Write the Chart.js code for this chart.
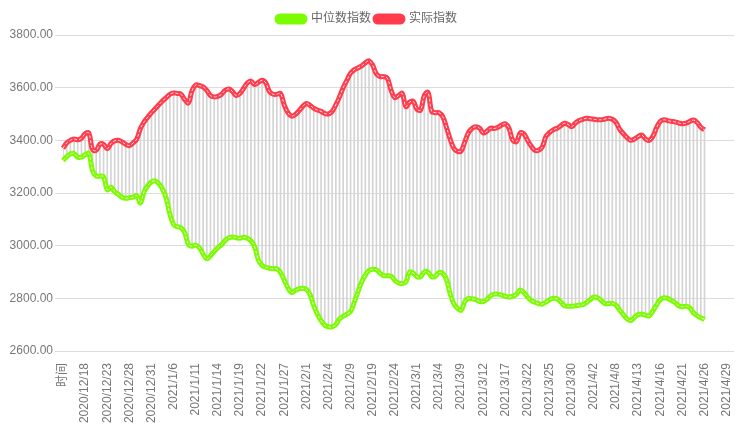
<!DOCTYPE html>
<html>
<head>
<meta charset="utf-8">
<script src="https://cdn.jsdelivr.net/npm/chart.js@4.4.1/dist/chart.umd.min.js"></script>
<style>
  html, body { margin: 0; padding: 0; background: #fff; }
  #wrap { width: 736px; height: 448px; }
</style>
</head>
<body>
<div id="wrap"><canvas id="myChart"></canvas></div>
<script>
// visible x labels (every 6th category)
const tickLabels = ['时间', '2020/12/18', '2020/12/23', '2020/12/28', '2020/12/31', '2021/1/6', '2021/1/11',
    '2021/1/14', '2021/1/19', '2021/1/22', '2021/1/27', '2021/2/1', '2021/2/4', '2021/2/9', '2021/2/19',
    '2021/2/24', '2021/3/1', '2021/3/4', '2021/3/9', '2021/3/12', '2021/3/17', '2021/3/22', '2021/3/25',
    '2021/3/30', '2021/4/2', '2021/4/8', '2021/4/13', '2021/4/16', '2021/4/21', '2021/4/26', '2021/4/29'];
const categoryCount = 183;

// 实际指数
const actual = [
    3370, 3390, 3400, 3405, 3402, 3408, 3425, 3428, 3365, 3362,
    3385, 3385, 3368, 3388, 3398, 3400, 3394, 3385, 3380, 3390,
    3405, 3445, 3470, 3488, 3505, 3520, 3535, 3550, 3562, 3575,
    3580, 3578, 3575, 3555, 3542, 3588, 3610, 3608, 3603, 3590,
    3570, 3565, 3567, 3575, 3590, 3595, 3585, 3570, 3578, 3598,
    3618, 3625, 3612, 3620, 3628, 3618, 3585, 3575, 3575, 3578,
    3535, 3505, 3492, 3498, 3512, 3528, 3540, 3533, 3522, 3515,
    3510, 3502, 3500, 3510, 3535, 3565, 3600, 3628, 3655, 3668,
    3675, 3683, 3694, 3702, 3685, 3652, 3642, 3642, 3635, 3590,
    3562, 3570, 3578, 3528, 3545, 3548, 3518, 3515, 3570, 3582,
    3510, 3505, 3505, 3490, 3450, 3405, 3370, 3358, 3360, 3395,
    3430, 3446, 3452, 3446, 3428, 3435, 3446, 3445, 3450, 3458,
    3463, 3445, 3400, 3395, 3428, 3425, 3400, 3378, 3362, 3362,
    3375, 3415, 3430, 3440, 3446, 3455, 3465, 3460, 3452, 3466,
    3475, 3480, 3484, 3482, 3480, 3478, 3478, 3481, 3484, 3480,
    3468, 3442, 3425, 3410, 3400, 3405, 3414, 3420, 3405, 3400,
    3415, 3448, 3472, 3478, 3475, 3472, 3470, 3466, 3463, 3465,
    3472, 3477, 3468, 3450, 3440
];

// 中位数指数
const median = [
    3323, 3338, 3348, 3350, 3336, 3336, 3345, 3350, 3285, 3265,
    3264, 3262, 3212, 3222, 3205, 3195, 3184, 3180, 3182, 3184,
    3190, 3162, 3205, 3228, 3242, 3246, 3235, 3215, 3180, 3120,
    3080, 3072, 3068, 3050, 3005, 2998, 3002, 2992, 2968, 2950,
    2962, 2978, 2992, 3004, 3020, 3030, 3033, 3030, 3028, 3032,
    3028, 3018, 2995, 2945, 2925, 2918, 2914, 2912, 2912, 2898,
    2870, 2840, 2822, 2830, 2836, 2838, 2834, 2815, 2772, 2740,
    2715, 2698, 2692, 2692, 2700, 2722, 2732, 2740, 2750, 2785,
    2825, 2862, 2888, 2906, 2910, 2908, 2895, 2886, 2886, 2884,
    2868, 2858, 2856, 2862, 2900, 2896, 2882, 2882, 2900, 2900,
    2882, 2884, 2898, 2895, 2872, 2818, 2780, 2762, 2755, 2788,
    2800, 2798, 2795, 2788, 2788, 2796, 2810, 2816, 2816, 2812,
    2808, 2805, 2808, 2815, 2832, 2822, 2805, 2792, 2785, 2780,
    2778, 2786, 2795, 2800, 2798, 2786, 2772, 2770, 2770, 2772,
    2774, 2776, 2784, 2795, 2805, 2802, 2792, 2780, 2780, 2781,
    2774, 2755, 2738, 2722, 2716, 2728, 2738, 2740, 2736, 2734,
    2752, 2775, 2795, 2802, 2800, 2792, 2784, 2772, 2768, 2770,
    2764, 2745, 2734, 2726, 2720
];

const greenColor = '#7cfc00';
const redColor = '#ff3b4c';

let categories = [];
for (let i = 0; i < categoryCount; i++) {
    categories.push(i % 6 == 0 ? tickLabels[i / 6] : '');
}

let ranges = [];
for (let i = 0; i < median.length; i++) {
    ranges.push([median[i], actual[i]]);
}

const fontFamily = '"Liberation Sans", Arial, "Noto Sans CJK SC", sans-serif';

const ctx = document.getElementById('myChart');
const myChart = new Chart(ctx, {
    data: {
        labels: categories,
        datasets: [
            {
                type: 'line', label: 'dash-green', data: median,
                borderColor: 'rgba(255,255,255,0.85)', borderWidth: 1, borderDash: [3, 2],
                pointRadius: 0, tension: 0.4, fill: false
            },
            {
                type: 'line', label: 'dash-red', data: actual,
                borderColor: 'rgba(255,255,255,0.85)', borderWidth: 1, borderDash: [3, 2],
                pointRadius: 0, tension: 0.4, fill: false
            },
            {
                type: 'line', label: '中位数指数', data: median,
                borderColor: greenColor, backgroundColor: greenColor, borderWidth: 5,
                pointRadius: 0, tension: 0.4, fill: false
            },
            {
                type: 'line', label: '实际指数', data: actual,
                borderColor: redColor, backgroundColor: redColor, borderWidth: 5,
                pointRadius: 0, tension: 0.4, fill: false
            },
            {
                type: 'bar', label: 'range', data: ranges,
                backgroundColor: '#d4d4d4', barThickness: 1, borderWidth: 0
            }
        ]
    },
    options: {
        responsive: true,
        maintainAspectRatio: false,
        animation: false,
        layout: { padding: { left: 0, right: 2, top: 9, bottom: 0 } },
        plugins: {
            tooltip: { enabled: false },
            legend: {
                position: 'top',
                labels: {
                    filter: (item) => item.text == '中位数指数' || item.text == '实际指数',
                    boxWidth: 28,
                    boxHeight: 6,
                    useBorderRadius: true,
                    borderRadius: 3,
                    padding: 4,
                    color: '#666',
                    font: { family: fontFamily, size: 12 }
                }
            }
        },
        scales: {
            x: {
                offset: false,
                grid: { display: false },
                border: { display: false },
                afterFit: (scale) => {
                    scale.height = 97;
                    scale.paddingRight = 0;
                    scale.paddingLeft = 0;
                },
                ticks: {
                    autoSkip: false,
                    maxRotation: 90,
                    minRotation: 90,
                    padding: 4,
                    color: '#777',
                    font: { family: fontFamily, size: 12 },
                    callback: function(value) {
                        let lbl = this.getLabelForValue(value);
                        return lbl == '' ? null : lbl;
                    }
                }
            },
            y: {
                min: 2600,
                max: 3800,
                grid: { color: '#dcdcdc', drawTicks: true, tickLength: 8 },
                border: { display: false },
                afterFit: (scale) => { scale.width = 63; },
                ticks: {
                    stepSize: 200,
                    padding: 2,
                    color: '#777',
                    font: { family: fontFamily, size: 12 },
                    callback: (v) => v.toFixed(2)
                }
            }
        }
    }
});
</script>
</body>
</html>
